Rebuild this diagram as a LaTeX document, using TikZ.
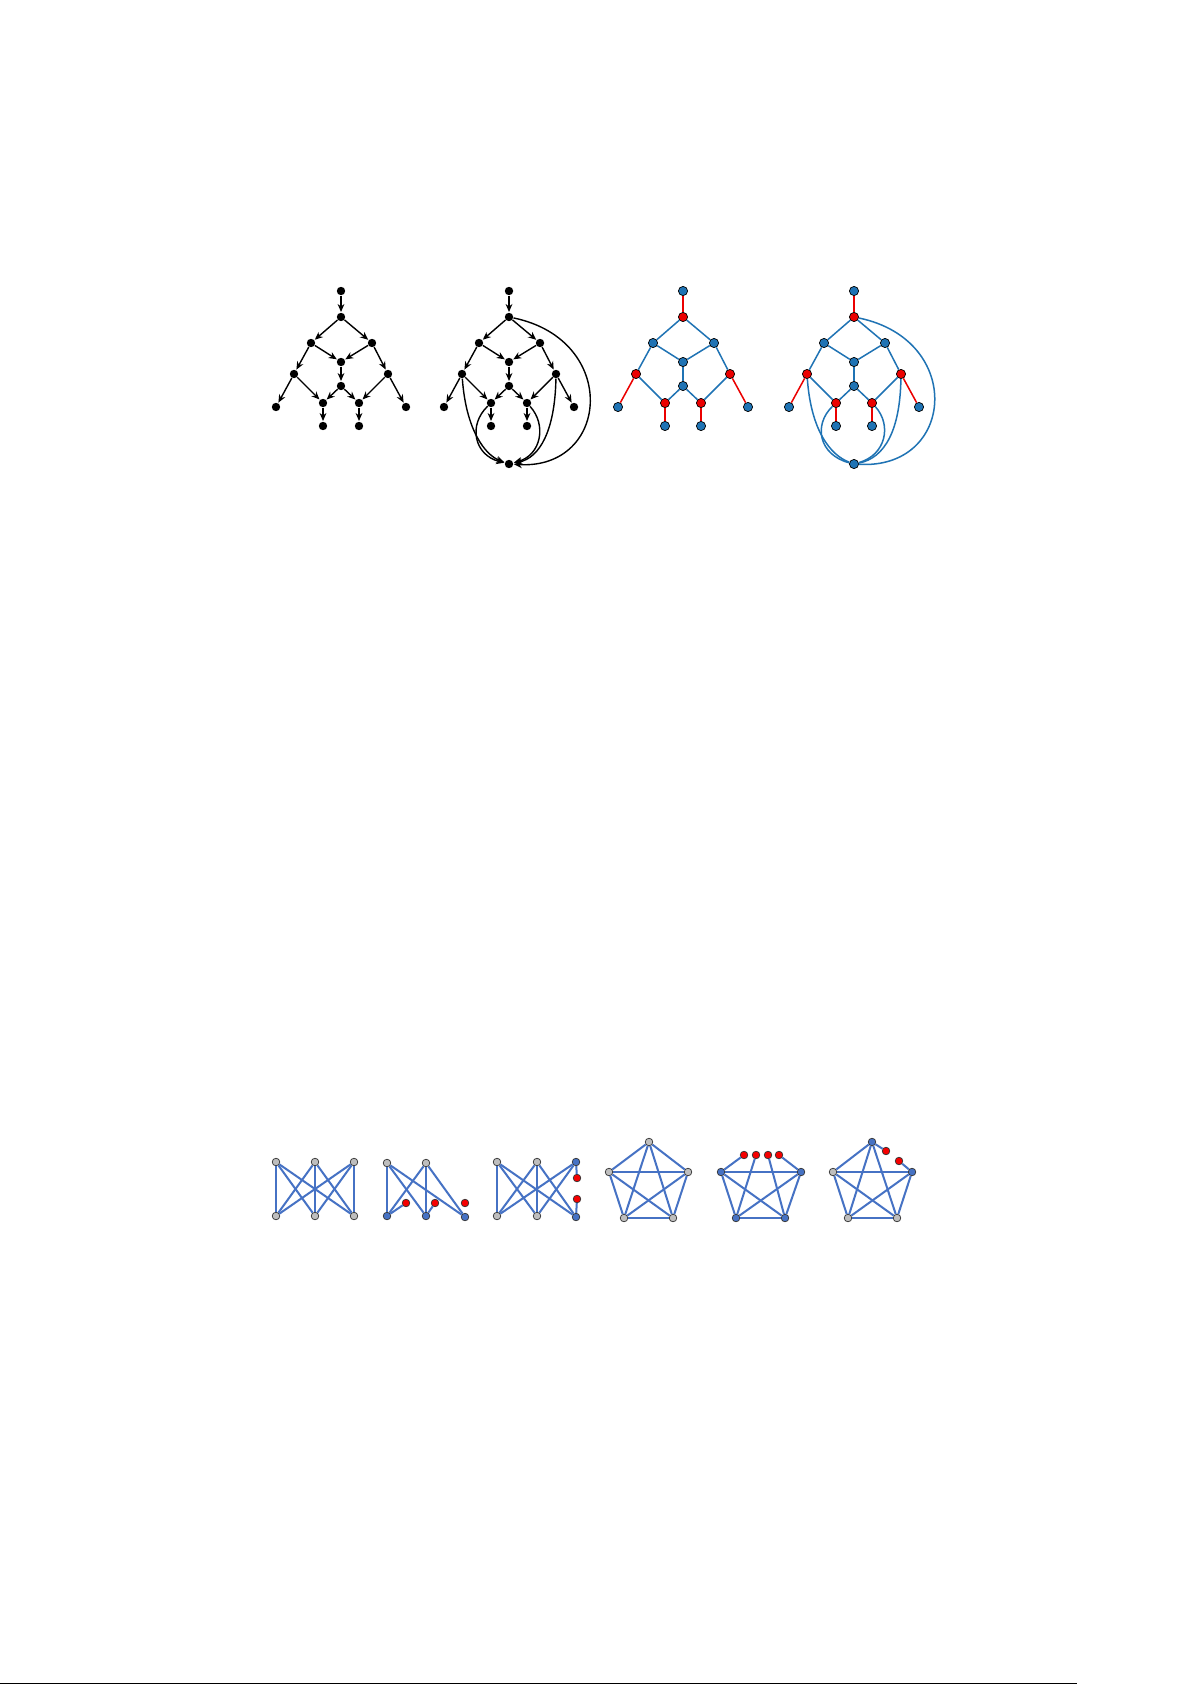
\documentclass[tikz,border=0pt]{standalone}
\usetikzlibrary{arrows.meta}
\definecolor{tblue}{RGB}{31,115,180}
\definecolor{tred}{RGB}{235,0,0}
\definecolor{kblue}{RGB}{70,114,196}
\definecolor{kgray}{RGB}{190,190,190}
\definecolor{kred}{RGB}{245,0,0}
\newcommand\treenodes[3]{%
  \node[#2] (#1t) at (341,291) {};
  \node[#3] (#1n) at (341,317) {};
  \node[#2] (#1L) at (311,343) {};
  \node[#2] (#1R) at (372,343) {};
  \node[#2] (#1C) at (341,362) {};
  \node[#3] (#1LL) at (294,374) {};
  \node[#3] (#1RR) at (388,374) {};
  \node[#2] (#1D) at (341,386) {};
  \node[#2] (#1fL) at (276,407) {};
  \node[#3] (#1ML) at (323,403) {};
  \node[#3] (#1MR) at (359,403) {};
  \node[#2] (#1fR) at (406,407) {};
  \node[#2] (#1bL) at (323,426) {};
  \node[#2] (#1bR) at (359,426) {};
}
\begin{document}
\begin{tikzpicture}[x=0.5pt,y=-0.5pt,
  dot/.style={circle,fill=black,inner sep=0pt,minimum size=4.2pt},
  bdot/.style={circle,draw=black,line width=0.35pt,fill=tblue,inner sep=0pt,minimum size=4.6pt},
  rdot/.style={circle,draw=black,line width=0.35pt,fill=tred,inner sep=0pt,minimum size=4.6pt},
  arr/.style={-{Stealth[length=4pt,width=3.4pt]},line width=0.7pt,shorten >=0.2pt},
  be/.style={draw=tblue,line width=0.75pt},
  re/.style={draw=tred,line width=0.75pt},
  ke/.style={draw=kblue,line width=1pt},
  gv/.style={circle,draw=black!80,line width=0.35pt,fill=kgray,inner sep=0pt,minimum size=3.8pt},
  bv/.style={circle,draw=black!80,line width=0.35pt,fill=kblue,inner sep=0pt,minimum size=3.8pt},
  rv/.style={circle,draw=black!80,line width=0.35pt,fill=kred,inner sep=0pt,minimum size=3.8pt}]
\useasboundingbox (0,0) rectangle (1192,1685);
\fill[white] (0,0) rectangle (1192,1685);

% ---------- graph 1 ----------
\begin{scope}
\treenodes{a}{dot}{dot}
\foreach \u/\v in {t/n,n/L,n/R,L/C,R/C,L/LL,R/RR,C/D,LL/fL,LL/ML,D/ML,D/MR,RR/MR,RR/fR,ML/bL,MR/bR}
  \draw[arr] (a\u) -- (a\v);
\end{scope}

% ---------- graph 2 ----------
\begin{scope}[shift={(168,0)}]
\treenodes{b}{dot}{dot}
\node[dot] (bB) at (341,464) {};
\foreach \u/\v in {t/n,n/L,n/R,L/C,R/C,L/LL,R/RR,C/D,LL/fL,LL/ML,D/ML,D/MR,RR/MR,RR/fR,ML/bL,MR/bR}
  \draw[arr] (b\u) -- (b\v);
\draw[arr] (bn) .. controls (452,340) and (442,470) .. (bB);
\draw[arr] (bLL) .. controls (298,430) and (317,455) .. (bB);
\draw[arr] (bML) .. controls (300,425) and (306,455) .. (bB);
\draw[arr] (bMR) .. controls (379,425) and (373,455) .. (bB);
\draw[arr] (bRR) .. controls (387,430) and (372,458) .. (bB);
\end{scope}

% ---------- graph 3 ----------
\begin{scope}[shift={(342,0)}]
\treenodes{c}{bdot}{rdot}
\foreach \u/\v in {n/L,n/R,L/C,R/C,L/LL,R/RR,C/D,LL/ML,D/ML,D/MR,RR/MR}
  \draw[be] (c\u) -- (c\v);
\foreach \u/\v in {t/n,LL/fL,RR/fR,ML/bL,MR/bR}
  \draw[re] (c\u) -- (c\v);
\end{scope}

% ---------- graph 4 ----------
\begin{scope}[shift={(513,0)}]
\treenodes{d}{bdot}{rdot}
\node[bdot] (dB) at (341,464) {};
\foreach \u/\v in {n/L,n/R,L/C,R/C,L/LL,R/RR,C/D,LL/ML,D/ML,D/MR,RR/MR}
  \draw[be] (d\u) -- (d\v);
\foreach \u/\v in {t/n,LL/fL,RR/fR,ML/bL,MR/bR}
  \draw[re] (d\u) -- (d\v);
\draw[be] (dn) .. controls (452,340) and (442,470) .. (dB);
\draw[be] (dLL) .. controls (298,430) and (317,455) .. (dB);
\draw[be] (dML) .. controls (300,425) and (306,455) .. (dB);
\draw[be] (dMR) .. controls (379,425) and (373,455) .. (dB);
\draw[be] (dRR) .. controls (387,430) and (372,458) .. (dB);
\end{scope}

% ---------- bottom row ----------
% K33
\node[gv] (e1) at (276,1162) {};
\node[gv] (e2) at (315,1162) {};
\node[gv] (e3) at (354,1162) {};
\node[gv] (e4) at (276,1216) {};
\node[gv] (e5) at (315,1216) {};
\node[gv] (e6) at (354,1216) {};
\foreach \u in {1,2,3}\foreach \v in {4,5,6} \draw[ke] (e\u) -- (e\v);

% K33 minus a vertex with pendants
\node[gv] (f1) at (387,1163) {};
\node[gv] (f2) at (426,1163) {};
\node[bv] (f4) at (387,1216) {};
\node[bv] (f5) at (426,1216) {};
\node[bv] (f6) at (465,1217) {};
\node[rv] (f7) at (406,1203) {};
\node[rv] (f8) at (435,1203) {};
\node[rv] (f9) at (465,1203) {};
\foreach \u in {1,2}\foreach \v in {4,5,6} \draw[ke] (f\u) -- (f\v);
\draw[ke] (f4) -- (f7);
\draw[ke] (f5) -- (f8);

% K33 with a split edge
\node[gv] (g1) at (497,1162) {};
\node[gv] (g2) at (537,1162) {};
\node[bv] (g3) at (576,1162) {};
\node[gv] (g4) at (497,1216) {};
\node[gv] (g5) at (537,1216) {};
\node[bv] (g6) at (576,1217) {};
\node[rv] (g7) at (577,1178) {};
\node[rv] (g8) at (577,1199) {};
\foreach \u/\v in {1/4,1/5,1/6,2/4,2/5,2/6,3/4,3/5} \draw[ke] (g\u) -- (g\v);
\draw[ke] (g3) -- (g7);
\draw[ke] (g8) -- (g6);

% K5
\node[gv] (h1) at (649,1142) {};
\node[gv] (h2) at (609,1172) {};
\node[gv] (h3) at (688,1172) {};
\node[gv] (h4) at (624,1218) {};
\node[gv] (h5) at (673,1218) {};
\foreach \u/\v in {1/2,1/3,1/4,1/5,2/3,2/4,2/5,3/4,3/5,4/5} \draw[ke] (h\u) -- (h\v);

% K5 with top vertex split into four
\node[bv] (i2) at (721,1172) {};
\node[bv] (i3) at (801,1172) {};
\node[bv] (i4) at (736,1218) {};
\node[bv] (i5) at (785,1218) {};
\node[rv] (i6) at (744,1155) {};
\node[rv] (i7) at (756,1155) {};
\node[rv] (i8) at (768,1155) {};
\node[rv] (i9) at (779,1155) {};
\foreach \u/\v in {2/3,2/4,2/5,3/4,3/5,4/5,2/6,7/4,8/5,9/3} \draw[ke] (i\u) -- (i\v);

% K5 with a subdivided edge
\node[bv] (j1) at (872,1142) {};
\node[gv] (j2) at (833,1172) {};
\node[bv] (j3) at (912,1172) {};
\node[gv] (j4) at (848,1218) {};
\node[gv] (j5) at (897,1218) {};
\node[rv] (j6) at (886,1151) {};
\node[rv] (j7) at (899,1161) {};
\foreach \u/\v in {1/2,1/4,1/5,2/3,2/4,2/5,3/4,3/5,4/5,1/6,7/3} \draw[ke] (j\u) -- (j\v);

% bottom rule
\coordinate (r1) at (0,1683.5);
\coordinate (r2) at (1077,1683.5);
\draw[line width=0.8pt] (r1) -- (r2);
\end{tikzpicture}
\end{document}
